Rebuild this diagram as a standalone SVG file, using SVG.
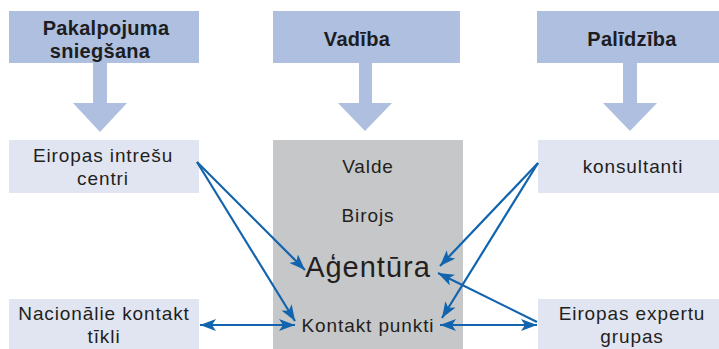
<svg xmlns="http://www.w3.org/2000/svg" width="719" height="349" viewBox="0 0 719 349">
  <style>
    .hdr { fill: #aebfdf; }
    .box { fill: #e1e5f2; }
    .core { fill: #c6c7c9; }
    .down { fill: #aebfdf; }
    .h { font-family: "Liberation Sans", Arial, sans-serif; font-weight: bold; font-size: 20px; fill: #1d1d1f; text-anchor: middle; letter-spacing: 0.3px; }
    .t { font-family: "Liberation Sans", Arial, sans-serif; font-size: 19px; fill: #231f20; text-anchor: middle; letter-spacing: 0.9px; }
    .big { font-family: "Liberation Sans", Arial, sans-serif; font-size: 29px; fill: #231f20; text-anchor: middle; letter-spacing: 1px; }
    .link { stroke: #1164ad; stroke-width: 2.2; fill: none; }
  </style>
  <defs>
    <marker id="head" viewBox="0 0 16 12" refX="16" refY="6" markerWidth="16" markerHeight="12" markerUnits="userSpaceOnUse" orient="auto-start-reverse">
      <path d="M0,0 L16,6 L0,12 L4,6 Z" fill="#1164ad"/>
    </marker>
  </defs>

  <!-- column headers with their down arrows -->
  <g id="hdr-pakalpojuma">
    <rect class="hdr" x="9" y="11" width="190" height="52"/>
    <text class="h" x="106" y="35">Pakalpojuma</text>
    <text class="h" x="100" y="58">sniegšana</text>
    <path class="down" d="M93,63 H107 V103 H127 L100,132 L73,103 H93 Z"/>
  </g>
  <g id="hdr-vadiba">
    <rect class="hdr" x="273" y="11" width="187" height="52"/>
    <text class="h" x="357" y="46">Vadība</text>
    <path class="down" d="M359,63 H372 V103 H392 L365,131 L338,103 H359 Z"/>
  </g>
  <g id="hdr-palidziba">
    <rect class="hdr" x="537" y="11" width="182" height="52"/>
    <text class="h" x="632" y="46">Palīdzība</text>
    <path class="down" d="M623,63 H637 V103 H657 L630,131 L603,103 H623 Z"/>
  </g>

  <!-- central block -->
  <g id="agentura">
    <rect class="core" x="273" y="140" width="190" height="209"/>
    <text class="t" x="368" y="173">Valde</text>
    <text class="t" x="368" y="222">Birojs</text>
    <text class="big" x="368" y="277">Aģentūra</text>
    <text class="t" x="368" y="332">Kontakt punkti</text>
  </g>

  <!-- side nodes -->
  <g id="eiropas-intresu-centri">
    <rect class="box" x="9" y="140" width="190" height="53"/>
    <text class="t" x="103" y="162">Eiropas intrešu</text>
    <text class="t" x="103" y="185">centri</text>
  </g>
  <g id="nacionalie-tikli">
    <rect class="box" x="9" y="299" width="190" height="50"/>
    <text class="t" x="104" y="320">Nacionālie kontakt</text>
    <text class="t" x="104" y="343">tīkli</text>
  </g>
  <g id="konsultanti">
    <rect class="box" x="538" y="140" width="181" height="53"/>
    <text class="t" x="633" y="173">konsultanti</text>
  </g>
  <g id="expertu-grupas">
    <rect class="box" x="538" y="299" width="181" height="50"/>
    <text class="t" x="632" y="320">Eiropas expertu</text>
    <text class="t" x="632" y="343">grupas</text>
  </g>

  <!-- connectors -->
  <g id="connectors">
    <line class="link" x1="197" y1="162" x2="305" y2="270" marker-end="url(#head)"/>
    <line class="link" x1="197" y1="162" x2="295" y2="321" marker-end="url(#head)"/>
    <line class="link" x1="200" y1="325" x2="295" y2="325" marker-start="url(#head)" marker-end="url(#head)"/>
    <line class="link" x1="538" y1="163" x2="440" y2="266" marker-end="url(#head)"/>
    <line class="link" x1="538" y1="163" x2="442" y2="318" marker-end="url(#head)"/>
    <line class="link" x1="537" y1="322" x2="438" y2="273" marker-end="url(#head)"/>
    <line class="link" x1="440" y1="325" x2="537" y2="325" marker-start="url(#head)" marker-end="url(#head)"/>
  </g>
</svg>
